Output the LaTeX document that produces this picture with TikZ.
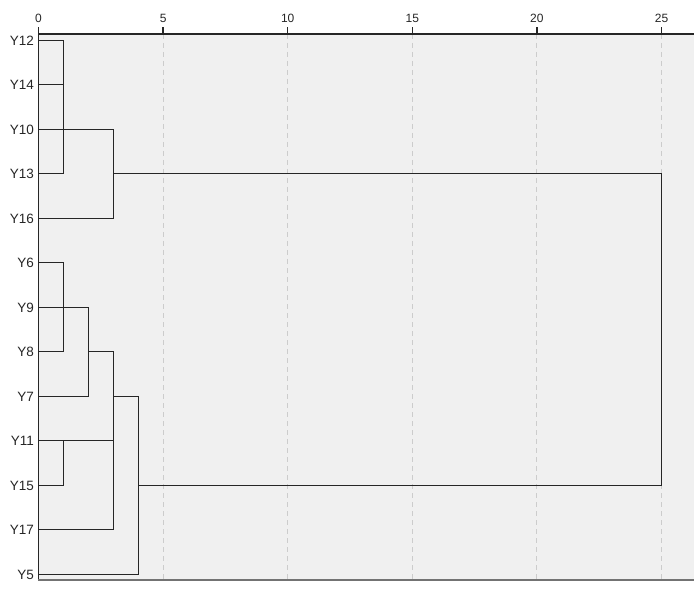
\documentclass[tikz,border=0pt]{standalone}
\usepackage{fontspec}
\setmainfont{Liberation Sans}
\begin{document}
\begin{tikzpicture}[x=1pt,y=-1pt,
  link/.style={line width=1.3pt,draw=black!85},
  grid/.style={line width=0.9pt,draw=black!20,dash pattern=on 5pt off 4pt},
  leaflabel/.style={anchor=east,inner sep=0pt,font=\fontsize{13.5}{15}\selectfont,text=black!85},
  ticklabel/.style={anchor=base,inner sep=0pt,font=\fontsize{12}{14}\selectfont,text=black!85},
  axisline/.style={line width=1.3pt,draw=black!85}]
\useasboundingbox (0,0) rectangle (694,591);
\fill[black!6] (38,34) rectangle (694,580);
\foreach \v in {5,10,...,25} \draw[grid] ({38.5+24.92*\v},34) -- ({38.5+24.92*\v},580);
\draw[axisline] (38,34) -- (694,34);
\foreach \v in {0,5,...,25} {
  \draw[axisline] ({38.5+24.92*\v},34) -- ({38.5+24.92*\v},27);
  \node[ticklabel] (t\v) at ({38.5+24.92*\v},23) {\v};
}
\draw[line width=1.3pt,draw=black!85] (38.5,34) -- (38.5,580);
\draw[line width=1.4pt,draw=black!55] (38,580) -- (694,580);
% leaves
\foreach \n/\y in {12/40.5,14/84.5,10/129.5,13/173.5,16/218.5,6/262.5,9/307.5,8/351.5,7/396.5,11/440.5,15/485.5,17/529.5,5/574.5} {
  \coordinate (c\n) at (38.5,\y);
  \node[leaflabel] (n\n) at (34,\y+0.5) {Y\n};
}
% merge points
\coordinate (m1) at (63.5,173.5);
\coordinate (m2) at (113.5,218.5);
\coordinate (m3) at (661.5,485.5);
\coordinate (m4) at (138.5,574.5);
\coordinate (b1) at (63.5,351.5);
\coordinate (b2) at (88.5,396.5);
\coordinate (b3) at (113.5,529.5);
\coordinate (b4) at (63.5,440.5);
% upper cluster
\draw[link] (c12) -| (m1) -- (c13);
\draw[link] (c14) -- (c14 -| m1);
\draw[link] (c10) -| (m2) -- (c16);
% lower cluster
\draw[link] (c6) -| (b1) -- (c8);
\draw[link] (c9) -| (b2) -- (c7);
\draw[link] (c8 -| b2) -| (b3) -- (c17);
\draw[link] (c11) -- (c11 -| b3);
\draw[link] (c15) -| (b4);
\draw[link] (c7 -| b3) -| (m4) -- (c5);
% top join
\draw[link] (c13 -| m2) -| (m3) -- (c15 -| m4);
\end{tikzpicture}
\end{document}
